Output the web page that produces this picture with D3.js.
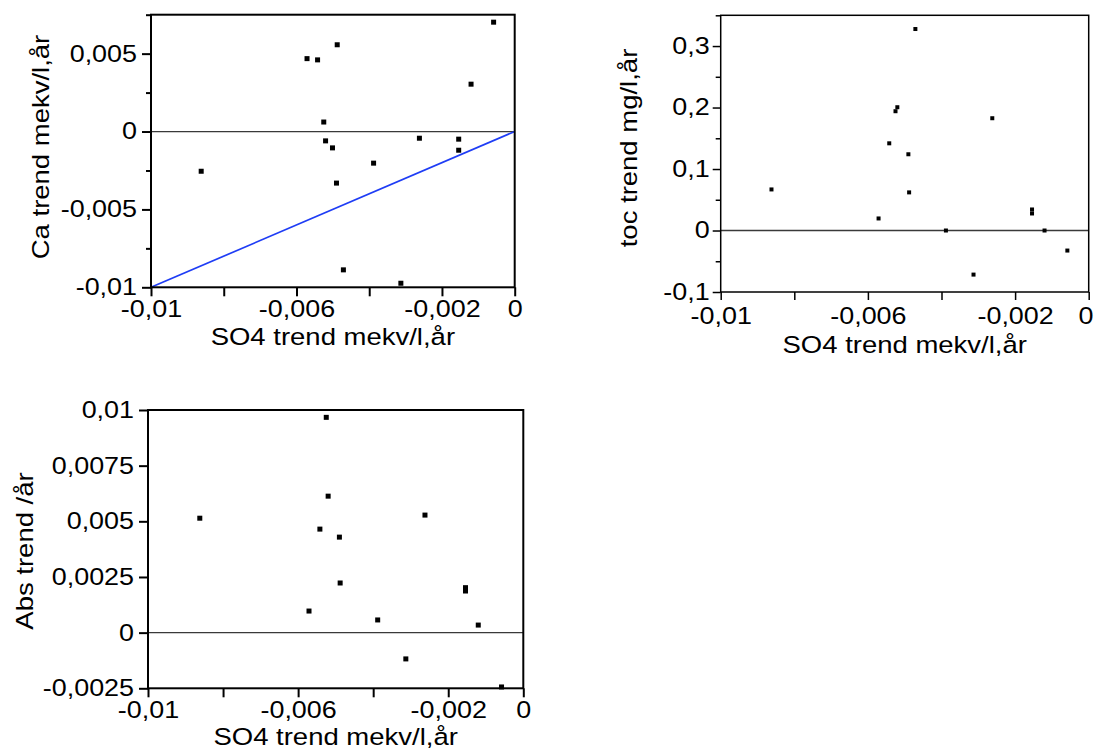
<!DOCTYPE html>
<html>
<head>
<meta charset="utf-8">
<script src="https://cdn.jsdelivr.net/npm/d3@7"></script>
<style>
  html, body { margin: 0; padding: 0; background: #fff; }
  svg { display: block; }
  text { font-family: "Liberation Sans", Arial, Helvetica, sans-serif; fill: #000; }
</style>
</head>
<body>
<svg id="chart" width="1094" height="753"></svg>
<script>
// SO4 trend per site (mekv/l,år) — shared x values for all three panels
const so4Trend = [-0.00862, -0.00571, -0.00542, -0.00488, -0.00525, -0.00520, -0.00501, -0.00490,
                  -0.00471, -0.00388, -0.00313, -0.00262, -0.00154, -0.00154, -0.00120, -0.00058];
// Ca trend (mekv/l,år)
const caTrend = [-0.00255, 0.00468, 0.00460, 0.00557, 0.00061, -0.00060, -0.00105, -0.00331,
                 -0.00888, -0.00203, -0.00974, -0.00043, -0.00049, -0.00120, 0.00304, 0.00702];
// TOC trend (mg/l,år); null = no value for that site
const tocTrend = [0.0668, 0.0196, 0.1418, 0.062, 0.194, 0.2005, null, 0.124,
                  0.3277, 0, -0.0717, 0.1826, 0.0342, 0.0277, 0, -0.0326];
// Absorbance trend (/år)
const absTrend = [0.00514, 0.00097, 0.00465, 0.00223, 0.00967, 0.00613, null, 0.00429,
                  null, 0.00057, -0.00118, 0.00528, 0.00202, 0.00187, 0.00034, -0.00244];

// 1:1 reference line in the Ca panel
const oneToOne = [[-0.01, -0.01], [0, 0]];

// Axis ticks and labels
const xTickValues = [-0.01, -0.008, -0.006, -0.004, -0.002, 0];
const xTickLabels = ["-0,01", "", "-0,006", "", "-0,002", "0"];
const caTickValues = [-0.01, -0.0075, -0.005, -0.0025, 0, 0.0025, 0.005, 0.0075];
const caTickLabels = ["-0,01", "", "-0,005", "", "0", "", "0,005", ""];
const tocTickValues = [-0.1, -0.05, 0, 0.05, 0.1, 0.15, 0.2, 0.25, 0.3, 0.35];
const tocTickLabels = ["-0,1", "", "0", "", "0,1", "", "0,2", "", "0,3", ""];
const absTickValues = [-0.0025, 0, 0.0025, 0.005, 0.0075, 0.01];
const absTickLabels = ["-0,0025", "0", "0,0025", "0,005", "0,0075", "0,01"];

const xTitle = "SO4 trend mekv/l,år";

const svg = d3.select("#chart");
const TICK_FONT = 23, TITLE_FONT = 23.5, STRETCH = 1.17;
const CANVAS_W = 1094;

function drawPanel(o) {
  const x = d3.scaleLinear().domain([-0.01, 0]).range([o.left, o.right]);
  const y = d3.scaleLinear().domain(o.yDomain).range([o.bottom, o.top]);
  const g = svg.append("g");

  // zero line
  g.append("line")
    .attr("x1", o.left).attr("x2", o.right)
    .attr("y1", y(0)).attr("y2", y(0))
    .attr("stroke", "#3a3a3a").attr("stroke-width", 1.3);

  // optional reference line
  if (o.refLine) {
    g.append("path").datum(o.refLine)
      .attr("d", d3.line().x(d => x(d[0])).y(d => y(d[1])))
      .attr("fill", "none").attr("stroke", "#1f3df5").attr("stroke-width", 1.7);
  }

  // data points as small squares
  const pts = so4Trend.map((v, i) => [v, o.values[i]]).filter(d => d[1] !== null);
  g.selectAll("rect.pt").data(pts).join("rect")
    .attr("class", "pt")
    .attr("x", d => x(d[0]) - o.mark / 2)
    .attr("y", d => y(d[1]) - o.mark / 2)
    .attr("width", o.mark).attr("height", o.mark)
    .attr("fill", "#000");

  // frame
  g.append("rect")
    .attr("x", o.left).attr("y", o.top)
    .attr("width", o.right - o.left).attr("height", o.bottom - o.top)
    .attr("fill", "none").attr("stroke", "#000").attr("stroke-width", o.sw);

  // x axis
  const gx = g.append("g").attr("transform", `translate(0,${o.bottom})`)
    .call(d3.axisBottom(x).tickValues(xTickValues)
      .tickFormat((d, i) => xTickLabels[i]).tickSize(o.tick).tickPadding(o.xPad));
  gx.select(".domain").remove();
  gx.selectAll("line").attr("stroke", "#000").attr("stroke-width", o.sw);
  gx.selectAll("text")
    .attr("font-size", TICK_FONT)
    .attr("font-family", "Liberation Sans, Arial, sans-serif")
    .attr("transform", `scale(${STRETCH},1)`);
  // keep the last label inside the canvas when the panel reaches the right edge
  gx.selectAll(".tick").each(function (d) {
    const t = d3.select(this).select("text");
    const w = this.querySelector("text").getBBox().width * STRETCH;
    const cx = x(d);
    if (cx + w / 2 > CANVAS_W - 1) {
      t.attr("text-anchor", "end")
       .attr("transform", `translate(${CANVAS_W - 1 - cx},0) scale(${STRETCH},1)`);
    }
  });

  // y axis
  const gy = g.append("g").attr("transform", `translate(${o.left},0)`)
    .call(d3.axisLeft(y).tickValues(o.yTicks)
      .tickFormat((d, i) => o.yLabels[i]).tickSize(o.tick).tickPadding(o.yPad));
  gy.select(".domain").remove();
  gy.selectAll(".tick").each(function (d, i) {
    if (o.yLabels[i] === "") d3.select(this).select("line").attr("x2", -o.minor);
  });
  gy.selectAll("line").attr("stroke", "#000").attr("stroke-width", o.sw);
  gy.selectAll("text")
    .attr("font-size", TICK_FONT)
    .attr("font-family", "Liberation Sans, Arial, sans-serif")
    .attr("transform", function () {
      return `translate(${this.getAttribute("x")},0) scale(${STRETCH},1)`;
    })
    .attr("x", 0);

  // axis titles
  g.append("text")
    .attr("text-anchor", "middle")
    .attr("font-size", TITLE_FONT)
    .attr("transform", `translate(${(o.left + o.right) / 2},${o.xTitleY}) scale(${STRETCH},1)`)
    .text(xTitle);
  g.append("text")
    .attr("text-anchor", "middle")
    .attr("font-size", TITLE_FONT)
    .attr("transform", `translate(${o.yTitleX},${o.yTitleCY}) rotate(-90) scale(${STRETCH},1)`)
    .text(o.yTitle);
}

// Ca vs SO4
drawPanel({
  left: 151, right: 514.7, top: 14.7, bottom: 287.3,
  yDomain: [-0.01, 0.0075], yTicks: caTickValues, yLabels: caTickLabels,
  values: caTrend, refLine: oneToOne,
  mark: 5, sw: 2, tick: 9, minor: 5, xPad: 4, yPad: 5,
  xTitleY: 345, yTitleX: 49, yTitleCY: 147,
  yTitle: "Ca trend mekv/l,år"
});

// TOC vs SO4
drawPanel({
  left: 720.7, right: 1088.7, top: 15.3, bottom: 292,
  yDomain: [-0.1, 0.35], yTicks: tocTickValues, yLabels: tocTickLabels,
  values: tocTrend,
  mark: 4, sw: 1.5, tick: 8, minor: 5, xPad: 8, yPad: 3,
  xTitleY: 353, yTitleX: 637, yTitleCY: 148,
  yTitle: "toc trend mg/l,år"
});

// Abs vs SO4
drawPanel({
  left: 148, right: 523.3, top: 410, bottom: 688.3,
  yDomain: [-0.0025, 0.01], yTicks: absTickValues, yLabels: absTickLabels,
  values: absTrend,
  mark: 5, sw: 2, tick: 9, minor: 5, xPad: 4, yPad: 5,
  xTitleY: 745, yTitleX: 33, yTitleCY: 551,
  yTitle: "Abs trend /år"
});
</script>
</body>
</html>
